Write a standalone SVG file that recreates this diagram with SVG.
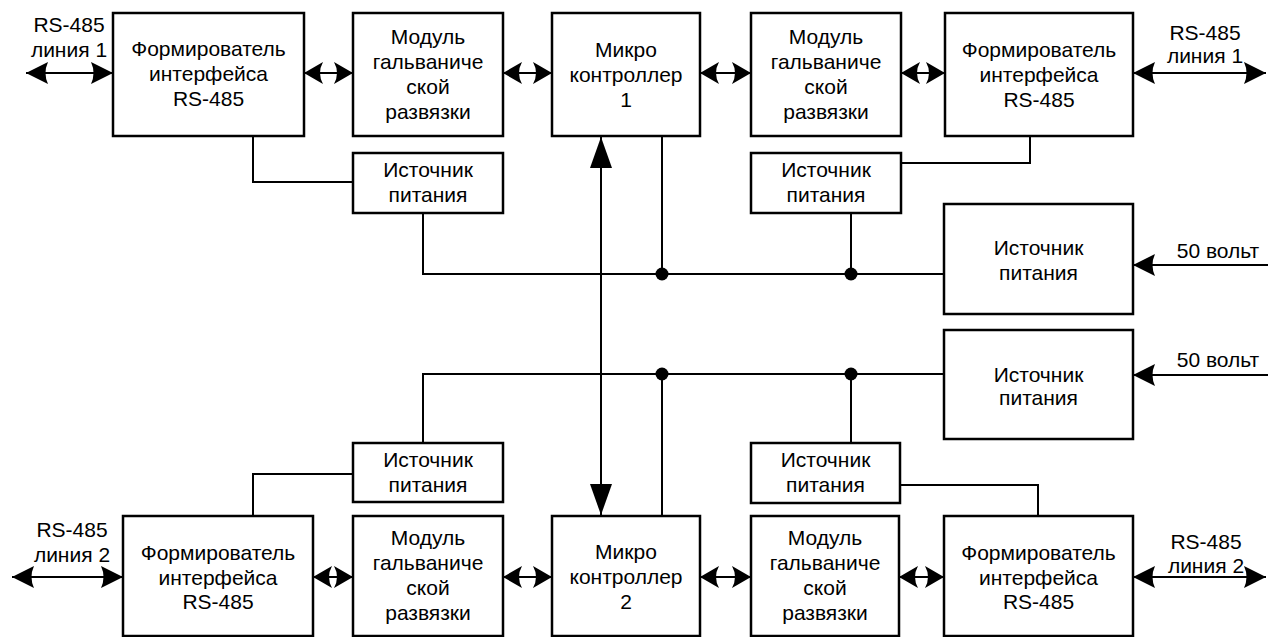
<svg xmlns="http://www.w3.org/2000/svg" width="1268" height="637" viewBox="0 0 1268 637">
<style>
.box{fill:#fff;stroke:#000;stroke-width:2.5}
.t{font-family:"Liberation Sans",Arial,sans-serif;font-size:21px;fill:#000;text-anchor:middle}
.w{fill:none;stroke:#000;stroke-width:2}
.h{marker-start:url(#ah);marker-end:url(#ah)}
.o{marker-start:url(#ao);marker-end:url(#ao)}
.e{marker-end:url(#ao)}
.v{marker-start:url(#av);marker-end:url(#av)}
</style>
<defs>
<marker id="ah" markerUnits="userSpaceOnUse" viewBox="0 0 19 22" refX="19" refY="11" markerWidth="19" markerHeight="22" orient="auto-start-reverse">
<path d="M0,0 L19,11 L0,22 Q6,11 0,0 Z" fill="#000"/>
</marker>
<marker id="ao" markerUnits="userSpaceOnUse" viewBox="0 0 22 22" refX="22" refY="11" markerWidth="22" markerHeight="22" orient="auto-start-reverse">
<path d="M0,0 L22,11 L0,22 Q5,11 0,0 Z" fill="#000"/>
</marker>
<marker id="av" markerUnits="userSpaceOnUse" viewBox="0 0 31 22" refX="31" refY="11" markerWidth="31" markerHeight="22" orient="auto-start-reverse">
<path d="M0,0 L31,11 L0,22 Z" fill="#000"/>
</marker>
</defs>
<rect width="1268" height="637" fill="#fff"/>
<g id="connectors">
<line class="w o" x1="26" y1="73" x2="113" y2="73"/>
<line class="w h" x1="304" y1="73" x2="353" y2="73"/>
<line class="w h" x1="503" y1="73" x2="552" y2="73"/>
<line class="w h" x1="700" y1="73" x2="751" y2="73"/>
<line class="w h" x1="901" y1="73" x2="945" y2="73"/>
<line class="w o" x1="1133" y1="73" x2="1266" y2="73"/>
<polyline class="w" points="253,136 253,182 353,182"/>
<polyline class="w" points="423,213 423,274 944,274"/>
<line class="w" x1="662" y1="136" x2="662" y2="274"/>
<line class="w" x1="851" y1="213" x2="851" y2="274"/>
<polyline class="w" points="1030,136 1030,163 901,163"/>
<line class="w e" x1="1268" y1="265" x2="1133" y2="265"/>
<line class="w e" x1="1268" y1="375" x2="1133" y2="375"/>
<polyline class="w" points="944,374 423,374 423,443"/>
<line class="w" x1="662" y1="374" x2="662" y2="516"/>
<line class="w" x1="851" y1="374" x2="851" y2="443"/>
<polyline class="w" points="353,474 253,474 253,516"/>
<polyline class="w" points="900,485 1038,485 1038,516"/>
<line class="w v" x1="601" y1="137" x2="601" y2="515"/>
<line class="w o" x1="12" y1="577" x2="123" y2="577"/>
<line class="w h" x1="313" y1="577" x2="353" y2="577"/>
<line class="w h" x1="503" y1="577" x2="552" y2="577"/>
<line class="w h" x1="700" y1="577" x2="751" y2="577"/>
<line class="w h" x1="899" y1="577" x2="944" y2="577"/>
<line class="w o" x1="1133" y1="577" x2="1266" y2="577"/>
<circle cx="662" cy="274" r="6.5"/>
<circle cx="851" cy="274" r="6.5"/>
<circle cx="662" cy="374" r="6.5"/>
<circle cx="851" cy="374" r="6.5"/>
<text class="t" x="69" y="32">RS-485</text>
<text class="t" x="69" y="57">линия 1</text>
<text class="t" x="1205" y="40">RS-485</text>
<text class="t" x="1205" y="63">линия 1</text>
<text class="t" x="1218" y="258">50 вольт</text>
<text class="t" x="1218" y="367">50 вольт</text>
<text class="t" x="72" y="537">RS-485</text>
<text class="t" x="72" y="562">линия 2</text>
<text class="t" x="1206" y="549">RS-485</text>
<text class="t" x="1206" y="573">линия 2</text>
</g>
<g id="f1"><rect class="box" x="113" y="13" width="191" height="123"/>
<text class="t" x="208.5" y="56">Формирователь</text><text class="t" x="208.5" y="81">интерфейса</text><text class="t" x="208.5" y="106">RS-485</text></g>
<g id="g1"><rect class="box" x="353" y="13" width="150" height="123"/>
<text class="t" x="428" y="44">Модуль</text><text class="t" x="428" y="69">гальваниче</text><text class="t" x="428" y="94">ской</text><text class="t" x="428" y="119">развязки</text></g>
<g id="m1"><rect class="box" x="552" y="13" width="148" height="123"/>
<text class="t" x="626" y="57">Микро</text><text class="t" x="626" y="82">контроллер</text><text class="t" x="626" y="107">1</text></g>
<g id="g2"><rect class="box" x="751" y="13" width="150" height="123"/>
<text class="t" x="826" y="44">Модуль</text><text class="t" x="826" y="69">гальваниче</text><text class="t" x="826" y="94">ской</text><text class="t" x="826" y="119">развязки</text></g>
<g id="f2"><rect class="box" x="945" y="13" width="188" height="123"/>
<text class="t" x="1039" y="57">Формирователь</text><text class="t" x="1039" y="82">интерфейса</text><text class="t" x="1039" y="107">RS-485</text></g>
<g id="p1"><rect class="box" x="353" y="153" width="150" height="60"/>
<text class="t" x="428" y="177">Источник</text><text class="t" x="428" y="202">питания</text></g>
<g id="p2"><rect class="box" x="751" y="153" width="150" height="60"/>
<text class="t" x="826" y="177">Источник</text><text class="t" x="826" y="202">питания</text></g>
<g id="P1"><rect class="box" x="944" y="204" width="189" height="110"/>
<text class="t" x="1038.5" y="255">Источник</text><text class="t" x="1038.5" y="280">питания</text></g>
<g id="P2"><rect class="box" x="944" y="330" width="189" height="109"/>
<text class="t" x="1038.5" y="382">Источник</text><text class="t" x="1038.5" y="405">питания</text></g>
<g id="p3"><rect class="box" x="353" y="443" width="150" height="59"/>
<text class="t" x="428" y="467">Источник</text><text class="t" x="428" y="492">питания</text></g>
<g id="p4"><rect class="box" x="751" y="443" width="149" height="60"/>
<text class="t" x="825.5" y="467">Источник</text><text class="t" x="825.5" y="492">питания</text></g>
<g id="f3"><rect class="box" x="123" y="516" width="190" height="120"/>
<text class="t" x="218" y="560">Формирователь</text><text class="t" x="218" y="585">интерфейса</text><text class="t" x="218" y="609">RS-485</text></g>
<g id="g3"><rect class="box" x="353" y="516" width="150" height="120"/>
<text class="t" x="428" y="545">Модуль</text><text class="t" x="428" y="570">гальваниче</text><text class="t" x="428" y="595">ской</text><text class="t" x="428" y="620">развязки</text></g>
<g id="m2"><rect class="box" x="552" y="516" width="148" height="120"/>
<text class="t" x="626" y="559">Микро</text><text class="t" x="626" y="584">контроллер</text><text class="t" x="626" y="609">2</text></g>
<g id="g4"><rect class="box" x="751" y="516" width="148" height="120"/>
<text class="t" x="825" y="545">Модуль</text><text class="t" x="825" y="570">гальваниче</text><text class="t" x="825" y="595">ской</text><text class="t" x="825" y="620">развязки</text></g>
<g id="f4"><rect class="box" x="944" y="516" width="189" height="120"/>
<text class="t" x="1038.5" y="560">Формирователь</text><text class="t" x="1038.5" y="585">интерфейса</text><text class="t" x="1038.5" y="609">RS-485</text></g>
</svg>
